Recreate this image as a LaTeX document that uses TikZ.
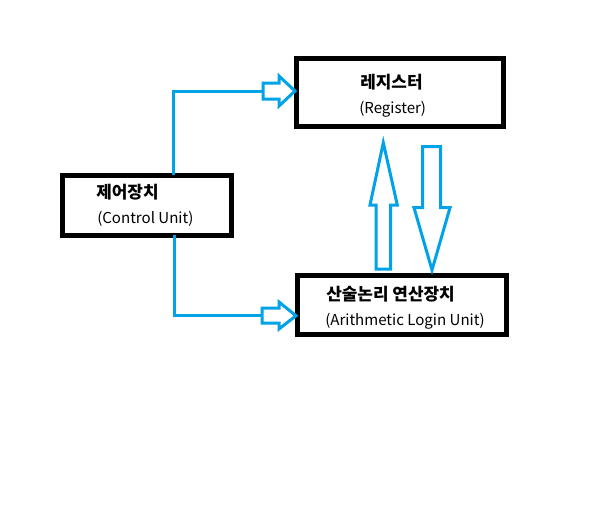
\documentclass[tikz,border=0pt]{standalone}
\usepackage{fontspec}
\setmainfont{Noto Sans CJK KR}
\begin{document}
\begin{tikzpicture}[x=0.75pt,y=-0.75pt,
  box/.style={draw=black,line width=3.75pt,inner sep=0pt},
  kr/.style={font=\fontsize{12.7}{15}\selectfont\bfseries,anchor=west,inner sep=0pt},
  en/.style={font=\fontsize{11.3}{13}\selectfont,anchor=west,inner sep=0pt},
  conn/.style={draw=paintblue,line width=2.25pt},
  blk/.style={draw=paintblue,line width=2.25pt,line join=miter,fill=white}]
\definecolor{paintblue}{RGB}{0,162,232}
\useasboundingbox (0,0) rectangle (600,508);
% boxes
\node[box,minimum width=207*0.75pt,minimum height=68*0.75pt] (reg) at (399.5,92.5) {};
\node[box,minimum width=169*0.75pt,minimum height=60*0.75pt] (ctrl) at (147,205) {};
\node[box,minimum width=209*0.75pt,minimum height=59*0.75pt] (alu) at (402,304.5) {};
% texts
\node[kr] (regk) at (360,82) {레지스터};
\node[en] (rege) at (359,109) {(Register)};
\node[kr] (ctrlk) at (96,192) {제어장치};
\node[en] (ctrle) at (97,219) {(Control Unit)};
\node[kr] (aluk) at (326,294) {산술논리 연산장치};
\node[en] (alue) at (325,321) {(Arithmetic Login Unit)};
% connector coordinates
\coordinate (tipA) at (295,91);
\coordinate (baseA) at (263,91);
\coordinate (cA) at (173.3,175);
\coordinate (tipB) at (296,315.7);
\coordinate (baseB) at (262,315.7);
\coordinate (cB) at (174.3,235);
% control -> register
\draw[conn] (cA) |- (baseA);
\draw[blk] (tipA) -- ++(-16,-15) -- ++(0,7) -- ++(-16,0) -- ++(0,16) -- ++(16,0) -- ++(0,7) -- cycle;
% control -> alu
\draw[conn] (cB) |- (baseB);
\draw[blk] (tipB) -- ++(-17,-13.7) -- ++(0,6) -- ++(-17,0) -- ++(0,15) -- ++(17,0) -- ++(0,6) -- cycle;
% alu -> register (up arrow)
\coordinate (tipU) at (383.3,142.7);
\draw[blk] (tipU) -- ++(14,62.3) -- ++(-6.6,0) -- ++(0,64) -- ++(-14.7,0) -- ++(0,-64) -- ++(-6,0) -- cycle;
% register -> alu (down arrow)
\coordinate (tipD) at (432,270);
\draw[blk] (tipD) -- ++(18,-62.3) -- ++(-9.3,0) -- ++(0,-61) -- ++(-18,0) -- ++(0,61) -- ++(-8.7,0) -- cycle;
\end{tikzpicture}
\end{document}
